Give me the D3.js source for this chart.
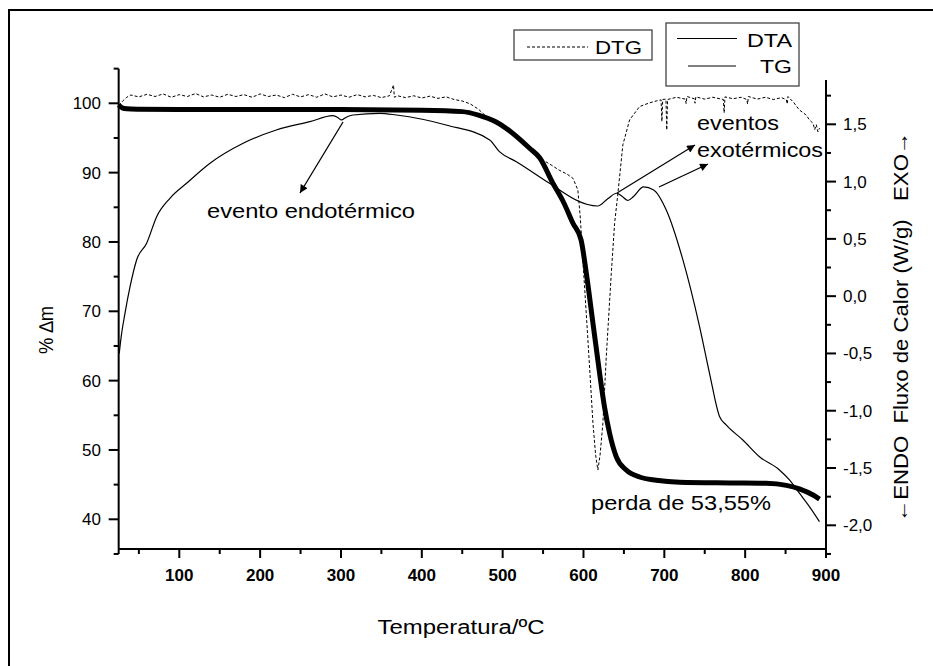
<!DOCTYPE html>
<html>
<head>
<meta charset="utf-8">
<script src="https://cdn.jsdelivr.net/npm/d3@7"></script>
<style>
  html, body { margin: 0; padding: 0; background: #fff; }
  svg { display: block; font-family: "Liberation Sans", Arial, sans-serif; }
</style>
</head>
<body>
<div id="chart"></div>
<script>
// TG curve: temperature (ºC) vs % mass
const tgTemp = [25, 30, 35, 50, 100, 200, 300, 400, 450, 470, 492, 510, 533, 546, 562, 575, 587, 597,
  603.5, 611.7, 620, 626, 632.3, 640.6, 652.9, 669.4, 690, 719, 781, 826, 851, 867, 884, 892];
const tgMass = [99.75, 99.3, 99.2, 99.15, 99.1, 99.1, 99.1, 99.0, 98.8, 98.3, 97.3, 95.9, 93.55, 92.1, 88.5, 85.8, 82.7, 80.3,
  75.5, 68.3, 61.0, 56.2, 52.4, 49.0, 47.1, 46.1, 45.64, 45.35, 45.25, 45.2, 44.9, 44.4, 43.5, 42.9];

// DTA curve: temperature (ºC) vs heat flow (W/g)
const dtaTemp = [25.7, 28, 32.8, 39, 47.2, 59.6, 72, 88.4, 109, 138, 179, 220, 261.5, 290, 296, 300.6, 306, 315, 348,
  368.6, 430, 484, 496, 517, 558, 595, 605, 617.5, 630, 641, 648, 654.9, 662, 674.3, 686.8, 702.4, 723, 743.6, 755.9,
  768.3, 776.5, 797.1, 817.7, 842.4, 854.8, 867.1, 879.5, 891.9];
const dtaFlow = [-0.50, -0.36, -0.15, 0.08, 0.316, 0.462, 0.694, 0.854, 0.985, 1.16, 1.334, 1.45, 1.523, 1.575, 1.56, 1.538, 1.56, 1.581, 1.596,
  1.581, 1.494, 1.363, 1.261, 1.174, 0.985, 0.825, 0.80, 0.787, 0.85, 0.898, 0.87, 0.835, 0.87, 0.953, 0.927, 0.752, 0.316, -0.266, -0.673,
  -1.051, -1.124, -1.255, -1.401, -1.517, -1.604, -1.72, -1.837, -1.968];

// DTG curve (relative units, hidden axis)
const dtgTemp = [25, 30, 35, 40, 50, 60, 70, 80, 90, 100, 110, 120, 130, 140, 150, 160, 170, 180, 190, 200, 210, 220,
  230, 240, 250, 260, 270, 280, 290, 300, 310, 320, 330, 340, 350, 360, 365, 366, 370, 380, 390, 400, 410, 420, 430,
  440, 450, 460, 470, 480, 492, 505, 521, 535, 550, 560, 570, 580, 587, 593, 596, 599, 605.5, 611.7, 615, 617.8,
  620.5, 624, 628.2, 634.4, 638.5, 642.6, 648.7, 657, 669.4, 681.7, 690, 696, 697, 698, 702, 703, 704, 715, 726, 727,
  728, 737, 738, 739, 750, 760, 773, 774, 775, 785, 795, 802, 803, 804, 815, 825, 835, 845, 851, 852, 853, 860,
  867, 875, 880, 884, 886, 888, 890, 892];
const dtgRate = [-0.02, -0.008, 0.002, 0.008, 0.003, 0.010, 0.004, 0.011, 0.002, 0.009, 0.004, 0.012, 0.003, 0.008, 0.002,
  0.010, 0.004, 0.009, 0.002, 0.011, 0.004, 0.008, 0.001, 0.010, 0.003, 0.009, 0.002, 0.011, 0.003, 0.008, 0.002, 0.009,
  0.003, 0.007, 0.001, 0.006, 0.035, 0.002, 0.006, 0.001, 0.006, 0.0, 0.005, -0.001, 0.003, -0.004, -0.008, -0.016,
  -0.03, -0.05, -0.064, -0.085, -0.113, -0.14, -0.167, -0.18, -0.194, -0.205, -0.216, -0.247, -0.32, -0.427, -0.651,
  -0.874, -0.96, -1.0, -0.96, -0.874, -0.695, -0.471, -0.337, -0.256, -0.126, -0.059, -0.023, -0.013, -0.008, -0.005,
  -0.063, -0.004, -0.003, -0.086, -0.004, 0.002, -0.003, -0.015, 0.004, -0.002, -0.014, 0.003, -0.003, 0.002, -0.004,
  -0.04, 0.003, -0.002, 0.002, -0.004, -0.016, 0.004, -0.003, 0.002, -0.004, 0.001, -0.005, -0.016, 0.004, -0.012,
  -0.032, -0.045, -0.06, -0.068, -0.085, -0.072, -0.091, -0.081];

const xTicks = d3.range(50, 901, 50);
const xLabels = [100, 200, 300, 400, 500, 600, 700, 800, 900];
const leftTicks = d3.range(35, 106, 5);
const leftLabels = [40, 50, 60, 70, 80, 90, 100];
const rightTicks = d3.range(-2.25, 1.76, 0.25);
const rightLabels = [-2, -1.5, -1, -0.5, 0, 0.5, 1, 1.5];

const W = 933, H = 666;
const svg = d3.select('#chart').append('svg').attr('width', W).attr('height', H);

// outer frame
svg.append('rect').attr('x', 9).attr('y', 10).attr('width', 1000).attr('height', 700)
  .attr('fill', 'none').attr('stroke', '#000').attr('stroke-width', 2);

const x = d3.scaleLinear().domain([100, 900]).range([179.3, 826]);
const yL = d3.scaleLinear().domain([40, 100]).range([519.3, 103.3]);
const yR = d3.scaleLinear().domain([-2, 1.5]).range([525.3, 124.3]);
const yD = d3.scaleLinear().domain([-1, 0]).range([470, 98]);
const xAxisY = 549;

// axis lines
const axes = svg.append('g').attr('stroke', '#000').attr('stroke-width', 2).attr('fill', 'none');
axes.append('line').attr('x1', x(25)).attr('x2', x(900)).attr('y1', xAxisY).attr('y2', xAxisY);
axes.append('line').attr('x1', x(25)).attr('x2', x(25)).attr('y1', yL(105)).attr('y2', yL(35));
axes.append('line').attr('x1', x(900)).attr('x2', x(900)).attr('y1', 80).attr('y2', xAxisY);

const isMajor = (v, list) => list.some(l => Math.abs(l - v) < 1e-6);

axes.selectAll('.xt').data(xTicks).join('line')
  .attr('x1', d => x(d)).attr('x2', d => x(d))
  .attr('y1', xAxisY).attr('y2', d => xAxisY + (isMajor(d, xLabels) ? 9 : 5));
axes.selectAll('.lt').data(leftTicks).join('line')
  .attr('y1', d => yL(d)).attr('y2', d => yL(d))
  .attr('x1', x(25)).attr('x2', d => x(25) - (isMajor(d, leftLabels) ? 10 : 5));
axes.selectAll('.rt').data(rightTicks).join('line')
  .attr('y1', d => yR(d)).attr('y2', d => yR(d))
  .attr('x1', x(900)).attr('x2', d => x(900) + (isMajor(d, rightLabels) ? 10 : 5));

// tick labels
svg.selectAll('.xl').data(xLabels).join('text')
  .attr('x', d => x(d)).attr('y', 580.5).attr('text-anchor', 'middle')
  .attr('font-size', 17).attr('font-weight', 'bold').text(d => d);
svg.selectAll('.ll').data(leftLabels).join('text')
  .attr('x', 101).attr('y', d => yL(d) + 6).attr('text-anchor', 'end')
  .attr('font-size', 17).text(d => d);
const fmtR = d => d3.format('.1f')(d).replace('.', ',').replace('−', '-');
svg.selectAll('.rl').data(rightLabels).join('text')
  .attr('x', 843).attr('y', d => yR(d) + 6).attr('text-anchor', 'start')
  .attr('font-size', 17).text(d => fmtR(d));

// axis titles
svg.append('text').attr('x', 461).attr('y', 634).attr('text-anchor', 'middle')
  .attr('font-size', 20).attr('textLength', 167).attr('lengthAdjust', 'spacingAndGlyphs')
  .text('Temperatura/ºC');
svg.append('text').attr('transform', 'translate(53,330) rotate(-90)').attr('text-anchor', 'middle')
  .attr('font-size', 20).attr('textLength', 48).attr('lengthAdjust', 'spacingAndGlyphs').text('% ∆m');
svg.append('text').attr('transform', 'translate(908,327) rotate(-90)').attr('text-anchor', 'middle')
  .attr('font-size', 20).attr('textLength', 390).attr('lengthAdjust', 'spacingAndGlyphs')
  .style('white-space', 'pre')
  .text('←ENDO  Fluxo de Calor (W/g)   EXO→');

// curves
const dtg = dtgTemp.map((t, i) => [t, dtgRate[i]]);
const dta = dtaTemp.map((t, i) => [t, dtaFlow[i]]);
const tg = tgTemp.map((t, i) => [t, tgMass[i]]);

svg.append('path').datum(dtg)
  .attr('d', d3.line().x(d => x(d[0])).y(d => yD(d[1])))
  .attr('fill', 'none').attr('stroke', '#000').attr('stroke-width', 1).attr('stroke-dasharray', '3,2');
svg.append('path').datum(dta)
  .attr('d', d3.line().curve(d3.curveMonotoneX).x(d => x(d[0])).y(d => yR(d[1])))
  .attr('fill', 'none').attr('stroke', '#000').attr('stroke-width', 1.2);
svg.append('path').datum(tg)
  .attr('d', d3.line().curve(d3.curveMonotoneX).x(d => x(d[0])).y(d => yL(d[1])))
  .attr('fill', 'none').attr('stroke', '#000').attr('stroke-width', 5).attr('stroke-linejoin', 'round');

// arrows
svg.append('defs').append('marker').attr('id', 'ah')
  .attr('viewBox', '0 0 10 10').attr('refX', 10).attr('refY', 5)
  .attr('markerWidth', 12).attr('markerHeight', 8).attr('markerUnits', 'userSpaceOnUse')
  .attr('orient', 'auto')
  .append('path').attr('d', 'M0,0 L10,5 L0,10 Z').attr('fill', '#000');
const arrows = [[343, 122, 300, 193], [617, 193, 695, 145], [659, 187, 708, 164]];
svg.selectAll('.arr').data(arrows).join('line')
  .attr('x1', d => d[0]).attr('y1', d => d[1]).attr('x2', d => d[2]).attr('y2', d => d[3])
  .attr('stroke', '#000').attr('stroke-width', 1.3).attr('marker-end', 'url(#ah)');

// annotations
const note = (tx, ty, len, s) => svg.append('text').attr('x', tx).attr('y', ty)
  .attr('font-size', 21).attr('textLength', len).attr('lengthAdjust', 'spacingAndGlyphs').text(s);
note(207, 218, 208, 'evento endotérmico');
note(697, 130, 82, 'eventos');
note(697, 157, 126, 'exotérmicos');
note(591, 510, 180, 'perda de 53,55%');

// legends
const lg = svg.append('g');
lg.append('rect').attr('x', 514).attr('y', 30).attr('width', 138).attr('height', 30)
  .attr('fill', '#fff').attr('stroke', '#444').attr('stroke-width', 1.3);
lg.append('line').attr('x1', 527).attr('x2', 588).attr('y1', 47).attr('y2', 47)
  .attr('stroke', '#000').attr('stroke-dasharray', '3,2');
lg.append('text').attr('x', 595).attr('y', 53.5).attr('font-size', 19)
  .attr('textLength', 47).attr('lengthAdjust', 'spacingAndGlyphs').text('DTG');
lg.append('rect').attr('x', 666).attr('y', 23).attr('width', 133).attr('height', 63)
  .attr('fill', '#fff').attr('stroke', '#444').attr('stroke-width', 1.3);
lg.append('line').attr('x1', 677).attr('x2', 737).attr('y1', 38.5).attr('y2', 38.5)
  .attr('stroke', '#000').attr('stroke-width', 1.2);
lg.append('text').attr('x', 747).attr('y', 46.7).attr('font-size', 19)
  .attr('textLength', 45).attr('lengthAdjust', 'spacingAndGlyphs').text('DTA');
lg.append('line').attr('x1', 688).attr('x2', 736).attr('y1', 66).attr('y2', 66)
  .attr('stroke', '#000').attr('stroke-width', 1.2);
lg.append('text').attr('x', 760).attr('y', 73.3).attr('font-size', 19)
  .attr('textLength', 32).attr('lengthAdjust', 'spacingAndGlyphs').text('TG');
</script>
</body>
</html>
